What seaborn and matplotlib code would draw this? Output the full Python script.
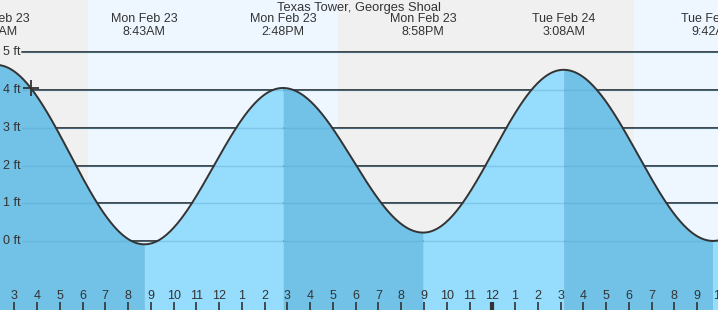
import numpy as np
import pandas as pd
import matplotlib
matplotlib.use("Agg")
import matplotlib.pyplot as plt
import matplotlib.transforms as mtransforms
import seaborn as sns

# ---- data ----
title = "Texas Tower, Georges Shoal"
# tide extremes: hours since Mon Feb 23 00:00, heights in ft
ext_hours = [2.2, 8.717, 14.8, 20.967, 27.133, 33.7, 39.9]
ext_heights = [4.66, -0.08, 4.05, 0.23, 4.53, 0.01, 4.1]
ext_days = ["Mon Feb 23", "Mon Feb 23", "Mon Feb 23", "Mon Feb 23", "Tue Feb 24", "Tue Feb 24", "Tue Feb 24"]
ext_times = ["2:12AM", "8:43AM", "2:48PM", "8:58PM", "3:08AM", "9:42AM", ""]
# sun: night/day boundaries (hours)
sun_edges = [0.0, 6.22, 17.21, 30.21, 40.0]
sun_is_day = [False, True, False, True]
# hour ticks
tick_hours = list(range(3, 35))
tick_labels = [str(h % 12 if h % 12 else 12) for h in tick_hours]
y_levels = [0, 1, 2, 3, 4, 5]
y_labels = ["0 ft", "1 ft", "2 ft", "3 ft", "4 ft", "5 ft"]
now_hour = 3.73

# ---- build smooth tide curve between extremes ----
ts, hs, seg = [], [], []
for i in range(len(ext_hours) - 1):
    t0, t1 = ext_hours[i], ext_hours[i + 1]
    h0, h1 = ext_heights[i], ext_heights[i + 1]
    tt = np.linspace(t0, t1, 120)
    hh = (h0 + h1) / 2 + (h0 - h1) / 2 * np.cos(np.pi * (tt - t0) / (t1 - t0))
    ts.append(tt); hs.append(hh); seg.append(h0 > h1)
df = pd.DataFrame({"t": np.concatenate(ts), "h": np.concatenate(hs)})

W, H = 718, 310
pxh = 22.76
x_left = 3 - 14.3 / pxh
x_right = x_left + W / pxh
pxf = 37.86
y_top = 241.3 / pxf
y_bot = -(H - 241.3) / pxf

sns.set_theme(style="white")
plt.rcParams["font.family"] = ["Liberation Sans", "DejaVu Sans"]
txt = "#333333"

fig = plt.figure(figsize=(W / 100, H / 100), dpi=100)
ax = fig.add_axes([0, 0, 1, 1])
ax.set_xlim(x_left, x_right)
ax.set_ylim(y_bot, y_top)
ax.axis("off")

for i, day in enumerate(sun_is_day):
    ax.axvspan(sun_edges[i], sun_edges[i + 1], color="#eef7ff" if day else "#f0f0f0", zorder=0, lw=0)

blend = mtransforms.blended_transform_factory(ax.transAxes, ax.transData)
for lv, lb in zip(y_levels, y_labels):
    ax.plot([22 / W, 1], [lv, lv], transform=blend, color="#333333", lw=1.3, zorder=1)
    ax.text(20.5 / W, lv, lb, transform=blend, ha="right", va="center", fontsize=9, color=txt, zorder=6)

for tt, hh, falling in zip(ts, hs, seg):
    ax.fill_between(tt, y_bot - 1, hh, color="#72c1e6" if falling else "#96dcfc", lw=0, zorder=2)

for lv in y_levels:
    ax.plot([22 / W, 1], [lv, lv], transform=blend, color="#4f9fcc", lw=1.0, alpha=0.35, zorder=3)

sns.lineplot(data=df, x="t", y="h", ax=ax, color="#333333", lw=1.4, zorder=4, sort=False, estimator=None)
ax.set_xlabel(""); ax.set_ylabel("")
ax.set_xlim(x_left, x_right)
ax.set_ylim(y_bot, y_top)

now_h = np.interp(now_hour, df["t"], df["h"])
ax.plot([now_hour], [now_h], marker="+", ms=11, mew=1.3, color="#333333", zorder=5)

blend_x = mtransforms.blended_transform_factory(ax.transData, ax.transAxes)
for t, d, tm in zip(ext_hours, ext_days, ext_times):
    if not tm:
        continue
    ax.text(t, 1 - 19 / H, d, transform=blend_x, ha="center", va="center", fontsize=9, color=txt, zorder=6)
    ax.text(t, 1 - 32 / H, tm, transform=blend_x, ha="center", va="center", fontsize=9, color=txt, zorder=6)

fig.text(0.5, 1 - 7.5 / H, title, ha="center", va="center", fontsize=9.3, color=txt)

for h, lb in zip(tick_hours, tick_labels):
    ax.text(h, 1 - 296 / H, lb, transform=blend_x, ha="center", va="center", fontsize=9, color=txt, zorder=6)
    ax.plot([h, h], [1 - 302 / H, 0], transform=blend_x, color="#333333",
            lw=3 if h % 24 == 0 else 1.2, zorder=6, solid_capstyle="butt")

fig.savefig("out.png", dpi=100)
